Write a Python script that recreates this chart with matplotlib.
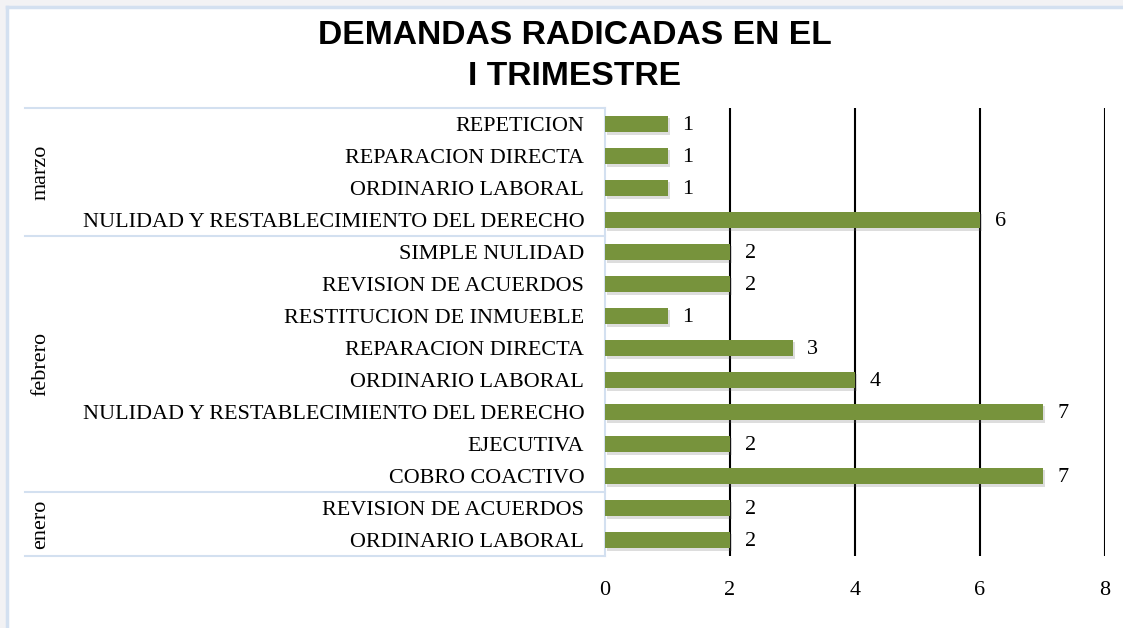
import matplotlib
matplotlib.use("Agg")
import matplotlib.pyplot as plt
import matplotlib.patheffects as pe
from matplotlib.patches import Rectangle
from matplotlib.lines import Line2D

# ---- data (bottom to top) ----
months = ["enero", "febrero", "marzo"]
enero_cats = ["ORDINARIO LABORAL", "REVISION DE ACUERDOS"]
enero_vals = [2, 2]
febrero_cats = ["COBRO COACTIVO", "EJECUTIVA", "NULIDAD Y RESTABLECIMIENTO DEL DERECHO",
                "ORDINARIO LABORAL", "REPARACION DIRECTA", "RESTITUCION DE INMUEBLE",
                "REVISION DE ACUERDOS", "SIMPLE NULIDAD"]
febrero_vals = [7, 2, 7, 4, 3, 1, 2, 2]
marzo_cats = ["NULIDAD Y RESTABLECIMIENTO DEL DERECHO", "ORDINARIO LABORAL",
              "REPARACION DIRECTA", "REPETICION"]
marzo_vals = [6, 1, 1, 1]
x_ticks = [0, 2, 4, 6, 8]
title = "DEMANDAS RADICADAS EN EL\nI TRIMESTRE"

groups = [(months[0], enero_cats, enero_vals),
          (months[1], febrero_cats, febrero_vals),
          (months[2], marzo_cats, marzo_vals)]
cats, vals = [], []
for _, c, v in groups:
    cats += c
    vals += v
ypos = list(range(len(cats)))

W, H = 1123, 628
fig = plt.figure(figsize=(W / 100, H / 100), dpi=100)
fig.patch.set_facecolor("#f2f2f4")
# white chart area with light-blue border on left/top
fig.patches.append(Rectangle((7 / W, 0), 1, 1 - 7 / H, transform=fig.transFigure,
                             facecolor="white", edgecolor="none", zorder=-10))
fig.lines.append(Line2D([7 / W, 7 / W], [0, 1 - 7 / H], transform=fig.transFigure,
                        color="#d3e0f0", lw=2.5, zorder=-5))
fig.lines.append(Line2D([7 / W, 1], [1 - 7 / H, 1 - 7 / H], transform=fig.transFigure,
                        color="#d3e0f0", lw=2.5, zorder=-5))

left, right = 605 / W, 1105 / W
top, bottom = 1 - 108 / H, 1 - 556 / H
ax = fig.add_axes([left, bottom, right - left, top - bottom])
ax.set_facecolor("none")

serif = "Liberation Serif"
fs = 15.9
bars = ax.barh(ypos, vals, height=0.53, color="#77933C", zorder=3)
for b in bars:
    b.set_path_effects([pe.SimplePatchShadow(offset=(1.5, -2), shadow_rgbFace="#666666", alpha=0.22),
                        pe.Normal()])
for y, v in zip(ypos, vals):
    ax.annotate(str(v), (v, y), xytext=(10.5, -1.2), textcoords="offset points",
                ha="left", va="center", fontsize=fs, family=serif, color="black")

ax.set_xlim(0, 8)
ax.set_ylim(-0.5, len(cats) - 0.5)
ax.set_xticks(x_ticks)
ax.set_xticklabels([str(t) for t in x_ticks], family=serif, fontsize=fs)
ax.tick_params(axis="x", length=0, pad=18)
ax.set_yticks(ypos)
ax.set_yticklabels(cats, family=serif, fontsize=fs)
ax.tick_params(axis="y", length=0, pad=15)
for t in x_ticks[1:]:
    ax.axvline(t, color="black", lw=1.5, zorder=2)
for s in ["top", "right", "bottom"]:
    ax.spines[s].set_visible(False)
ax.spines["left"].set_color("#d3e0f0")
ax.spines["left"].set_linewidth(1.5)

# category table lines and month labels
trans = ax.get_yaxis_transform()
x0 = (25 / W - left) / (right - left)
start = 0
bounds = [-0.5]
for m, c, v in groups:
    end = start + len(c)
    bounds.append(end - 0.5)
    ax.text((41 / W - left) / (right - left), (start + end - 1) / 2, m, transform=trans,
            rotation=90, ha="center", va="center", fontsize=fs, family=serif)
    start = end
for b in bounds:
    ax.plot([x0, 0], [b, b], transform=trans, color="#d3e0f0", lw=1.5, clip_on=False)

fig.text(575 / W, 1 - 56 / H, title, ha="center", va="center", fontsize=24.2,
         fontweight="bold", family="Liberation Sans", linespacing=1.42)

fig.savefig("out.png", dpi=100, facecolor=fig.get_facecolor())
